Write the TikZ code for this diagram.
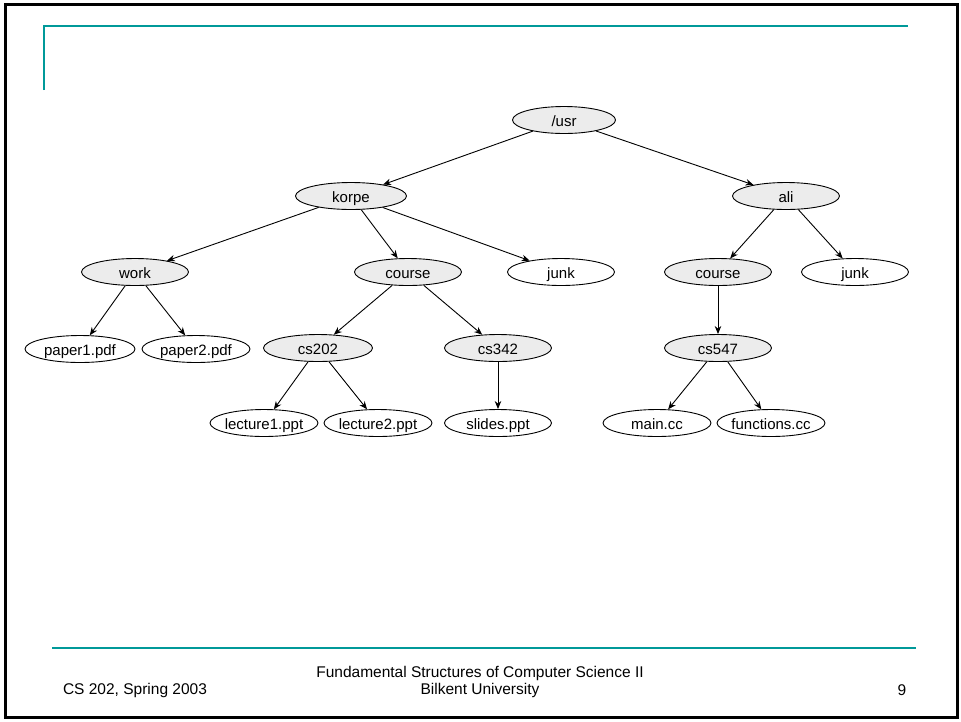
\documentclass[tikz,border=0pt]{standalone}
\usepackage{fontspec}
\setmainfont{Liberation Sans}
\usetikzlibrary{shapes.geometric,arrows.meta}
\definecolor{teal1}{RGB}{0,153,153}
\definecolor{dirfill}{RGB}{236,236,236}
\begin{document}
\begin{tikzpicture}[x=1pt,y=-1pt,
  fnode/.style={ellipse,draw=black,line width=0.9pt,minimum width=107pt,minimum height=27pt,
    inner xsep=-20pt,inner ysep=0pt,text height=12pt,text depth=0pt,font=\fontsize{15}{17}\selectfont},
  dnode/.style={fnode,fill=dirfill},
  lnode/.style={fnode,fill=white},
  link/.style={-{Stealth[length=8pt,width=6.5pt]},line width=0.9pt},
  rule/.style={teal1,line width=2pt},
  foot/.style={font=\fontsize{15.5}{17}\selectfont,inner sep=0pt}]
\useasboundingbox (0,0) rectangle (961,721);
% slide frame and decorative rules
\draw[line width=2.5pt] (5.5,4.5) rectangle (957.5,717.5);
\draw[rule] (44,90) -- (44,26) -- (908,26);
\draw[rule] (52,648) -- (916,648);
% directory tree
\node[dnode,minimum width=103pt] (usr) at (564,120) {/usr};
\node[dnode,minimum width=111pt] (korpe) at (351,196) {korpe};
\node[dnode] (ali) at (786,196) {ali};
\node[dnode] (work) at (135,272) {work};
\node[dnode] (course1) at (408,272) {course};
\node[lnode] (junk1) at (561,272) {junk};
\node[dnode] (course2) at (718,272) {course};
\node[lnode] (junk2) at (855,272) {junk};
\node[lnode,minimum width=110pt] (p1) at (80,349) {paper1.pdf};
\node[lnode,minimum width=108pt] (p2) at (196,349) {paper2.pdf};
\node[dnode,minimum width=109pt] (cs202) at (318,348) {cs202};
\node[dnode] (cs342) at (498,348) {cs342};
\node[dnode] (cs547) at (718,348) {cs547};
\node[lnode,minimum width=108pt] (l1) at (264,423) {lecture1.ppt};
\node[lnode,minimum width=108pt] (l2) at (378,423) {lecture2.ppt};
\node[lnode] (sl) at (498,423) {slides.ppt};
\node[lnode,minimum width=108pt] (mc) at (657,423) {main.cc};
\node[lnode,minimum width=108pt] (fc) at (771,423) {functions.cc};
\foreach \a/\b in {usr/korpe,usr/ali,korpe/work,korpe/course1,korpe/junk1,
  ali/course2,ali/junk2,work/p1,work/p2,course1/cs202,course1/cs342,
  course2/cs547,cs202/l1,cs202/l2,cs342/sl,cs547/mc,cs547/fc}
  \draw[link] (\a) -- (\b);
% footer
\node[foot] (ft1) at (135,690) {CS 202, Spring 2003};
\node[foot,align=center] (ft2) at (480,682) {Fundamental Structures of Computer Science II\\Bilkent University};
\node[foot] (ft3) at (902,690) {9};
\end{tikzpicture}
\end{document}
